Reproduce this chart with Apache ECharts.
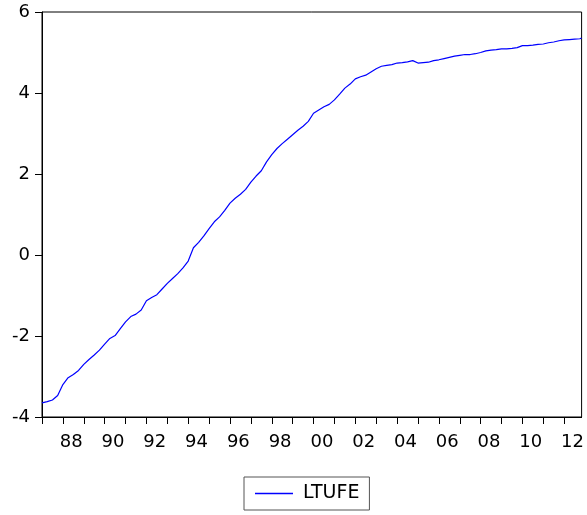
<!DOCTYPE html>
<html>
<head>
<meta charset="utf-8">
<script src="https://cdn.jsdelivr.net/npm/echarts@6/dist/echarts.min.js"></script>
<style>
  html, body { margin: 0; padding: 0; background: #fff; }
  #main { width: 587px; height: 515px; }
</style>
</head>
<body>
<div id="main"></div>
<script>
var startYear = 1987;
var ltufe = [
  -3.65, -3.62, -3.58, -3.47,   // 1987
  -3.20, -3.03, -2.95, -2.85,   // 1988
  -2.70, -2.58, -2.47, -2.35,   // 1989
  -2.20, -2.06, -1.99, -1.82,   // 1990
  -1.65, -1.52, -1.46, -1.36,   // 1991
  -1.13, -1.05, -0.98, -0.84,   // 1992
  -0.70, -0.58, -0.46, -0.32,   // 1993
  -0.15, 0.18, 0.31, 0.47,      // 1994
  0.65, 0.82, 0.94, 1.10,       // 1995
  1.28, 1.40, 1.50, 1.62,       // 1996
  1.80, 1.95, 2.08, 2.30,       // 1997
  2.48, 2.63, 2.75, 2.86,       // 1998
  2.97, 3.08, 3.18, 3.30,       // 1999
  3.50, 3.58, 3.66, 3.72,       // 2000
  3.83, 3.97, 4.12, 4.22,       // 2001
  4.35, 4.40, 4.44, 4.52,       // 2002
  4.60, 4.66, 4.68, 4.70,       // 2003
  4.74, 4.75, 4.77, 4.80,       // 2004
  4.74, 4.75, 4.76, 4.80,       // 2005
  4.82, 4.85, 4.88, 4.91,       // 2006
  4.93, 4.95, 4.95, 4.97,       // 2007
  5.00, 5.04, 5.06, 5.07,       // 2008
  5.09, 5.09, 5.10, 5.12,       // 2009
  5.17, 5.17, 5.18, 5.20,       // 2010
  5.21, 5.24, 5.26, 5.29,       // 2011
  5.31, 5.32, 5.33, 5.34        // 2012
];
var lastObs = { year: 2012, month: 11, value: 5.36 };

var tickYears = [];
for (var y = 1987; y <= 2012; y++) tickYears.push(y);
var labelYears = [1988, 1990, 1992, 1994, 1996, 1998, 2000, 2002, 2004, 2006, 2008, 2010, 2012];

// build [x, y] pairs, x as decimal year
var seriesData = ltufe.map(function (v, i) {
  return [startYear + i * 0.25, v];
});
seriesData.push([lastObs.year + (lastObs.month - 1) / 12, lastObs.value]);

var fontName = 'DejaVu Sans';
var chart = echarts.init(document.getElementById('main'));
chart.setOption({
  animation: false,
  backgroundColor: '#fff',
  grid: {
    left: 42, right: 3, top: 12, bottom: 98,
    show: true, borderColor: '#000', borderWidth: 1
  },
  xAxis: {
    type: 'value',
    min: startYear,
    max: lastObs.year + (lastObs.month - 1) / 12,
    splitLine: { show: false },
    axisLine: { onZero: false, lineStyle: { color: '#000', width: 1 } },
    axisTick: { customValues: tickYears, length: 7, lineStyle: { color: '#000' } },
    axisLabel: {
      // labels sit a bit right of the year tick, like the original
      customValues: labelYears.map(function (y) { return y + 0.4; }),
      formatter: function (v) { return String(Math.floor(v)).slice(2); },
      margin: 16,
      color: '#000',
      fontFamily: fontName,
      fontSize: 18
    }
  },
  yAxis: {
    type: 'value',
    min: -4, max: 6, interval: 2,
    splitLine: { show: false },
    axisLine: { show: true, onZero: false, lineStyle: { color: '#000', width: 1 } },
    axisTick: { show: true, length: 7, lineStyle: { color: '#000' } },
    axisLabel: { margin: 12, color: '#000', fontFamily: fontName, fontSize: 18 }
  },
  legend: {
    left: 244, top: 477,
    padding: [7, 10, 7, 11],
    borderColor: '#555', borderWidth: 1,
    icon: 'rect', itemWidth: 38, itemHeight: 1.5,
    textStyle: { color: '#000', fontFamily: fontName, fontSize: 19, padding: [0, 0, 0, 5] },
    data: ['LTUFE']
  },
  series: [{
    name: 'LTUFE',
    type: 'line',
    data: seriesData,
    showSymbol: false,
    symbol: 'none',
    color: '#0000ff',
    lineStyle: { color: '#0000ff', width: 1.2 }
  }]
});
</script>
</body>
</html>
